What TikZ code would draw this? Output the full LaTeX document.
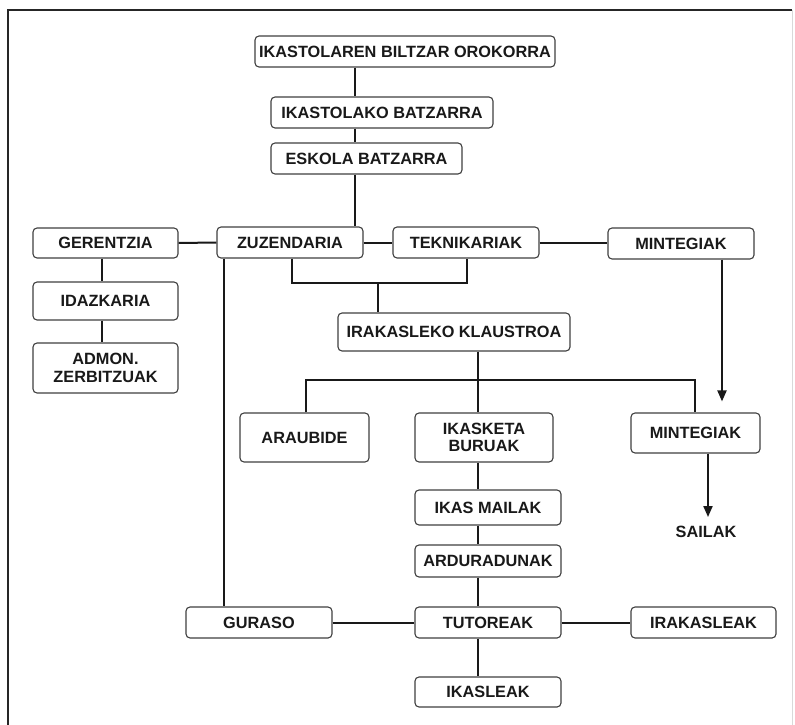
\documentclass[tikz,border=0pt]{standalone}
\usepackage{fontspec}
\setmainfont{Liberation Sans}
\usetikzlibrary{arrows.meta}
\newcommand{\lbl}{\fontsize{16.3}{17.5}\selectfont\bfseries}
\begin{document}
\begin{tikzpicture}[x=1pt,y=-1pt,
  box/.style={draw=black!75, line width=1.1pt, rounded corners=4pt, fill=white,
    font=\lbl, text=black!90, align=center, inner sep=0pt},
  link/.style={line width=2pt, black!90},
  arr/.style={link, -{Triangle[width=9pt,length=11pt]}}]
\useasboundingbox (0,0) rectangle (795,725);
\fill[white] (0,0) rectangle (795,725);
% frame
\draw[line width=2.6pt, black!85] (8,725) -- (8,10) -- (792,10);
\draw[line width=0.6pt, black!15] (792,10) -- (792,725);

% guide coordinates for the connector columns and rows
\coordinate (c355) at (355,0);
\coordinate (c102) at (102,0);
\coordinate (c224) at (224,0);
\coordinate (c292) at (292,0);
\coordinate (c378) at (378,0);
\coordinate (c467) at (467,0);
\coordinate (c478) at (478,0);
\coordinate (c306) at (306,0);
\coordinate (c695) at (695,0);
\coordinate (c722) at (722,0);
\coordinate (c708) at (708,0);
\coordinate (r283) at (0,283);
\coordinate (r380) at (0,380);

% boxes
\node[box, minimum width=300pt, minimum height=31pt] (org) at (405,51.5) {IKASTOLAREN BILTZAR OROKORRA};
\node[box, minimum width=222pt, minimum height=31pt] (ikb) at (382,112.5) {IKASTOLAKO BATZARRA};
\node[box, minimum width=191pt, minimum height=31pt] (esk) at (366.5,158.5) {ESKOLA BATZARRA};
\node[box, minimum width=145pt, minimum height=30pt] (ger) at (105.5,243) {GERENTZIA};
\node[box, minimum width=146pt, minimum height=31pt] (zuz) at (290,242.5) {ZUZENDARIA};
\node[box, minimum width=146pt, minimum height=31pt] (tek) at (466,242.5) {TEKNIKARIAK};
\node[box, minimum width=146pt, minimum height=31pt] (min1) at (681,243.5) {MINTEGIAK};
\node[box, minimum width=145pt, minimum height=38pt] (ida) at (105.5,301) {IDAZKARIA};
\node[box, minimum width=145pt, minimum height=50pt] (adm) at (105.5,368) {ADMON.\\ZERBITZUAK};
\node[box, minimum width=232pt, minimum height=38pt] (kla) at (454,332) {IRAKASLEKO KLAUSTROA};
\node[box, minimum width=129pt, minimum height=49pt] (ara) at (304.5,437.5) {ARAUBIDE};
\node[box, minimum width=138pt, minimum height=49pt] (bur) at (484,437.5) {IKASKETA\\BURUAK};
\node[box, minimum width=129pt, minimum height=40pt] (min2) at (695.5,433) {MINTEGIAK};
\node[box, minimum width=146pt, minimum height=35pt] (mai) at (488,507.5) {IKAS MAILAK};
\node[box, minimum width=146pt, minimum height=32pt] (ard) at (488,561) {ARDURADUNAK};
\node[box, minimum width=146pt, minimum height=31pt] (tut) at (488,622.5) {TUTOREAK};
\node[box, minimum width=146pt, minimum height=31pt] (gur) at (259,622.5) {GURASO};
\node[box, minimum width=145pt, minimum height=31pt] (irk) at (703.5,622.5) {IRAKASLEAK};
\node[box, minimum width=146pt, minimum height=30pt] (ika) at (488,692) {IKASLEAK};
\node[font=\lbl, text=black!90, inner sep=0pt] (sai) at (706,532) {SAILAK};

% vertical chain at the top
\draw[link] (org.south -| c355) -- (ikb.north -| c355);
\draw[link] (ikb.south -| c355) -- (esk.north -| c355);
\draw[link] (esk.south -| c355) -- (zuz.north -| c355);

% management row
\draw[link] (ger.east) -- (zuz.west);
\draw[link] (zuz.east) -- (tek.west);
\draw[link] (tek.east) -- (min1.west |- tek.east);

% administration column
\draw[link] (ger.south -| c102) -- (ida.north -| c102);
\draw[link] (ida.south -| c102) -- (adm.north -| c102);

% direction and technicians to the cloister
\draw[link] (zuz.south -| c292) -- (c292 |- r283) -- (c467 |- r283) -- (tek.south -| c467);
\draw[link] (c378 |- r283) -- (kla.north -| c378);

% direction to parents
\draw[link] (zuz.south -| c224) -- (gur.north -| c224);

% cloister branches
\draw[link] (kla.south -| c478) -- (bur.north -| c478);
\draw[link] (ara.north -| c306) -- (c306 |- r380) -- (c695 |- r380) -- (min2.north -| c695);

% studies column
\draw[link] (bur.south -| c478) -- (mai.north -| c478);
\draw[link] (mai.south -| c478) -- (ard.north -| c478);
\draw[link] (ard.south -| c478) -- (tut.north -| c478);
\draw[link] (tut.south -| c478) -- (ika.north -| c478);

% tutors row
\draw[link] (gur.east) -- (tut.west);
\draw[link] (tut.east) -- (irk.west);

% departments arrows
\draw[arr, shorten >=11pt] (min1.south -| c722) -- (min2.north -| c722);
\draw[arr, shorten >=9pt] (min2.south -| c708) -- (sai.north -| c708);
\end{tikzpicture}
\end{document}
